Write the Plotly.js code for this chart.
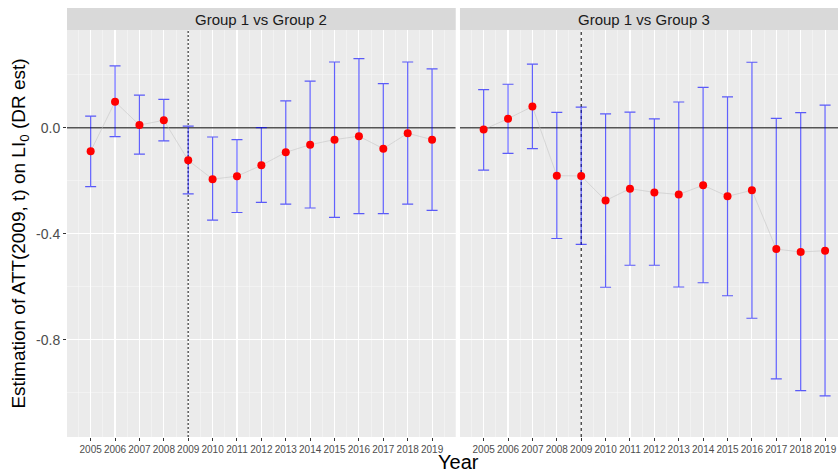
<!DOCTYPE html>
<html>
<head>
<meta charset="utf-8">
<script src="https://cdn.plot.ly/plotly-3.0.1.min.js"></script>
<style>
  html, body { margin: 0; padding: 0; background: #ffffff; }
  #chart { width: 838px; height: 473px; }
</style>
</head>
<body>
<div id="chart"></div>
<script>
// Event-study estimates of ATT(2009, t) with 95% confidence bands
const years = [2005, 2006, 2007, 2008, 2009, 2010, 2011, 2012, 2013, 2014, 2015, 2016, 2017, 2018, 2019];
const yearLabels = years.map(String);

// Group 1 vs Group 2
const est12   = [-0.089, 0.098, 0.010, 0.028, -0.123, -0.194, -0.183, -0.142, -0.093, -0.064, -0.045, -0.032, -0.079, -0.021, -0.045];
const upper12 = [0.044, 0.233, 0.123, 0.107, 0.006, -0.035, -0.045, 0.000, 0.101, 0.176, 0.248, 0.261, 0.166, 0.248, 0.222];
const lower12 = [-0.222, -0.034, -0.100, -0.050, -0.250, -0.349, -0.320, -0.282, -0.288, -0.303, -0.338, -0.324, -0.324, -0.288, -0.312];

// Group 1 vs Group 3
const est13   = [-0.007, 0.034, 0.080, -0.181, -0.182, -0.275, -0.230, -0.244, -0.252, -0.217, -0.259, -0.236, -0.458, -0.469, -0.464];
const upper13 = [0.144, 0.164, 0.240, 0.058, 0.078, 0.052, 0.059, 0.033, 0.097, 0.152, 0.116, 0.247, 0.035, 0.057, 0.085];
const lower13 = [-0.160, -0.097, -0.079, -0.418, -0.440, -0.602, -0.519, -0.519, -0.601, -0.585, -0.634, -0.719, -0.948, -0.992, -1.012];

const panelTitles = ["Group 1 vs Group 2", "Group 1 vs Group 3"];
const treatYear = 2009;

// axis extents
const xRangeLeft = [2004.03, 2019.97];
const xRangeRight = [2004.03, 2019.53];
const yRange = [-1.167, 0.3675];

const FONT = "Liberation Sans, Arial, sans-serif";

function panelTrace(est, lo, hi, xa) {
  return {
    type: "scatter",
    mode: "lines+markers",
    x: years,
    y: est,
    xaxis: xa,
    yaxis: "y",
    line: { color: "rgba(195,195,195,0.55)", width: 1 },
    marker: { color: "#ff0000", size: 8 },
    error_y: {
      type: "data",
      symmetric: false,
      array: hi.map((h, i) => h - est[i]),
      arrayminus: lo.map((l, i) => est[i] - l),
      color: "rgba(0,0,255,0.62)",
      thickness: 1.2,
      width: 5.5
    },
    hoverinfo: "x+y",
    showlegend: false
  };
}

// horizontal reference at zero and vertical marker at the treatment year
function refLines(xa, xr, vline) {
  return [
    { type: "scatter", mode: "lines", x: xr, y: [0, 0], xaxis: xa, yaxis: "y",
      line: { color: "#555555", width: 1.5 }, hoverinfo: "skip", showlegend: false },
    { type: "scatter", mode: "lines", x: [treatYear, treatYear], y: yRange, xaxis: xa, yaxis: "y",
      line: vline, hoverinfo: "skip", showlegend: false }
  ];
}

const data = [].concat(
  refLines("x", xRangeLeft, { color: "#666666", width: 1.6, dash: "2px,2px" }),
  refLines("x2", xRangeRight, { color: "#000000", width: 1, dash: "3px,3px" }),
  [panelTrace(est12, lower12, upper12, "x"),
   panelTrace(est13, lower13, upper13, "x2")]
);

const gridMinor = { showgrid: true, gridcolor: "#f6f6f6", gridwidth: 0.6 };

const xBase = {
  tickmode: "array",
  tickvals: years,
  ticktext: yearLabels,
  tickangle: 0,
  ticks: "outside",
  ticklen: 3,
  tickcolor: "#333333",
  tickwidth: 1,
  tickfont: { family: FONT, size: 10, color: "#4d4d4d" },
  showgrid: true,
  gridcolor: "#ffffff",
  gridwidth: 1.1,
  zeroline: false,
  showline: false,
  anchor: "y",
  fixedrange: true
};

const stripTop = 1;
const stripBottom = 0.948;
const leftDomain = [0, 0.5042];
const rightDomain = [0.5097, 1];

const layout = {
  width: 838,
  height: 473,
  margin: { l: 67, r: 0, t: 8, b: 36 },
  paper_bgcolor: "#ffffff",
  plot_bgcolor: "#ebebeb",
  font: { family: FONT },
  xaxis: Object.assign({}, xBase, {
    domain: leftDomain,
    range: xRangeLeft,
    minor: Object.assign({ tick0: 2004.5, dtick: 1 }, gridMinor)
  }),
  xaxis2: Object.assign({}, xBase, {
    domain: rightDomain,
    range: xRangeRight,
    minor: Object.assign({ tick0: 2004.5, dtick: 1 }, gridMinor)
  }),
  yaxis: {
    domain: [0, stripBottom],
    range: yRange,
    tickmode: "array",
    tickvals: [0, -0.4, -0.8],
    ticktext: ["0.0", "-0.4", "-0.8"],
    ticks: "outside",
    ticklen: 3,
    tickcolor: "#333333",
    tickfont: { family: FONT, size: 14, color: "#4d4d4d" },
    showgrid: true,
    gridcolor: "#ffffff",
    gridwidth: 1.1,
    minor: Object.assign({ tick0: 0.2, dtick: 0.4 }, gridMinor),
    zeroline: false,
    showline: false,
    fixedrange: true
  },
  shapes: [
    // facet strips
    { type: "rect", xref: "paper", yref: "paper", x0: leftDomain[0], x1: leftDomain[1], y0: stripBottom, y1: stripTop,
      fillcolor: "#d9d9d9", line: { width: 0 }, layer: "below" },
    { type: "rect", xref: "paper", yref: "paper", x0: rightDomain[0], x1: rightDomain[1], y0: stripBottom, y1: stripTop,
      fillcolor: "#d9d9d9", line: { width: 0 }, layer: "below" }
  ],
  annotations: [
    { text: panelTitles[0], xref: "paper", yref: "paper", x: (leftDomain[0] + leftDomain[1]) / 2, y: (stripBottom + stripTop) / 2,
      showarrow: false, xanchor: "center", yanchor: "middle", font: { family: FONT, size: 15, color: "#1a1a1a" } },
    { text: panelTitles[1], xref: "paper", yref: "paper", x: (rightDomain[0] + rightDomain[1]) / 2 - 0.006, y: (stripBottom + stripTop) / 2,
      showarrow: false, xanchor: "center", yanchor: "middle", font: { family: FONT, size: 15, color: "#1a1a1a" } },
    { text: "Estimation of ATT(2009, t) on LI<sub>0</sub> (DR est)", xref: "paper", yref: "paper",
      x: -0.061, y: stripBottom / 2, textangle: -90, showarrow: false, xanchor: "center", yanchor: "middle",
      font: { family: FONT, size: 19, color: "#000000" } },
    { text: "Year", xref: "paper", yref: "paper", x: (458 - 67) / 771, y: -0.058,
      showarrow: false, xanchor: "center", yanchor: "middle", font: { family: FONT, size: 20, color: "#000000" } }
  ]
};

Plotly.newPlot("chart", data, layout, { displayModeBar: false, staticPlot: true });
</script>
</body>
</html>
